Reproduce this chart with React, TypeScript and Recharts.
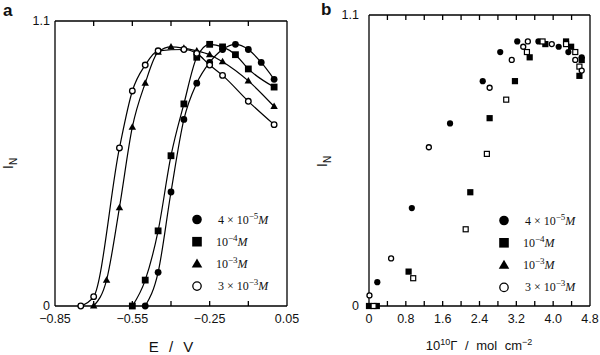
import React from "react";
import { ComposedChart, Line, ScatterChart, Scatter, XAxis, YAxis } from "recharts";

// panel a: normalised intensity vs electrode potential
const potential4e5 = [-0.5, -0.45, -0.4, -0.35, -0.3, -0.25, -0.2, -0.15, -0.1, -0.05, 0.0];
const intensity4e5 = [0, 0.13, 0.44, 0.72, 0.86, 0.94, 0.99, 1.01, 0.99, 0.94, 0.875];

const potential1e4 = [-0.55, -0.5, -0.45, -0.4, -0.35, -0.3, -0.25, -0.2, -0.15, -0.1, 0.0];
const intensity1e4 = [0, 0.1, 0.29, 0.58, 0.78, 0.96, 1.01, 1.0, 0.97, 0.915, 0.845];

const potential1e3 = [-0.7, -0.65, -0.6, -0.55, -0.5, -0.45, -0.4, -0.35, -0.3, -0.25, -0.2, -0.1, 0.0];
const intensity1e3 = [0, 0.1, 0.38, 0.69, 0.86, 0.98, 1.0, 0.995, 0.985, 0.97, 0.943, 0.869, 0.77];

const potential3e3 = [-0.75, -0.7, -0.6, -0.55, -0.5, -0.45, -0.35, -0.3, -0.25, -0.2, -0.1, 0.0];
const intensity3e3 = [0, 0.036, 0.61, 0.83, 0.93, 0.985, 0.99, 0.975, 0.93, 0.89, 0.79, 0.7];

// panel b: normalised intensity vs surface excess (10^10 mol cm^-2)
const coverageDisc = [0.18, 0.93, 1.76, 2.47, 2.85, 3.22, 3.68, 4.12, 4.33, 4.62];
const intensityDisc = [0.09, 0.37, 0.69, 0.85, 0.96, 1.0, 1.0, 0.98, 0.96, 0.94];

const coverageSquare = [0, 0.17, 0.86, 2.2, 2.62, 3.17, 3.49, 3.83, 4.28, 4.39, 4.62, 4.57];
const intensitySquare = [0, 0, 0.13, 0.43, 0.71, 0.85, 0.94, 0.99, 1.0, 0.98, 0.93, 0.87];

const coverageBox = [0.1, 0.96, 2.1, 2.56, 2.98, 3.43, 3.77, 4.28, 4.48, 4.57];
const intensityBox = [0, 0.105, 0.29, 0.575, 0.78, 0.96, 1.0, 0.99, 0.96, 0.905];

const coverageRing = [0.01, 0.48, 1.3, 2.62, 3.1, 3.35, 3.45, 3.97, 4.48, 4.62];
const intensityRing = [0.04, 0.18, 0.6, 0.825, 0.93, 0.98, 1.0, 0.99, 0.93, 0.89];

const potentialTicks = [-0.85, -0.55, -0.25, 0.05];
const potentialMinorTicks = [-0.7, -0.55, -0.4, -0.25, -0.1];
const coverageTicks = [0, 0.8, 1.6, 2.4, 3.2, 4.0, 4.8];
const coverageMinorTicks = [0.4, 0.8, 1.2, 1.6, 2.0, 2.4, 2.8, 3.2, 3.6, 4.0, 4.4];
const intensityTicks = [0, 1.1];

type Kind = "disc" | "square" | "triangle" | "ring" | "box";

const legendItems: { kind: Kind; coef: string; exp: string }[] = [
  { kind: "disc", coef: "4 × ", exp: "−5" },
  { kind: "square", coef: "", exp: "−4" },
  { kind: "triangle", coef: "", exp: "−3" },
  { kind: "ring", coef: "3 × ", exp: "−3" },
];

const toPoints = (xs: number[], ys: number[]) => xs.map((x, i) => ({ x, y: ys[i] }));
const onLevel = (xs: number[], level: number) => xs.map((x) => ({ x, y: level }));

function Marker({ kind, cx, cy, s = 3.4 }: { kind: Kind; cx?: number; cy?: number; s?: number }) {
  if (cx == null || cy == null) return null;
  if (kind === "disc") return <circle cx={cx} cy={cy} r={s} fill="#000" />;
  if (kind === "ring")
    return <circle cx={cx} cy={cy} r={s - 0.6} fill="#fff" stroke="#000" strokeWidth={1.3} />;
  if (kind === "square")
    return <rect x={cx - s} y={cy - s} width={2 * s} height={2 * s} fill="#000" />;
  if (kind === "box")
    return (
      <rect x={cx - s + 0.6} y={cy - s + 0.6} width={2 * s - 1.2} height={2 * s - 1.2}
        fill="#fff" stroke="#000" strokeWidth={1.2} />
    );
  const h = s * 1.9;
  return (
    <polygon
      points={`${cx},${cy - h * 0.6} ${cx + s * 1.1},${cy + h * 0.4} ${cx - s * 1.1},${cy + h * 0.4}`}
      fill="#000"
    />
  );
}

// inward tick marks on the frame: upward from the bottom line, downward from the top line
const TickUp = (p: any) => (
  <line x1={p.cx} x2={p.cx} y1={p.cy} y2={p.cy - 5} stroke="#000" strokeWidth={1.3} />
);
const TickDown = (p: any) => (
  <line x1={p.cx} x2={p.cx} y1={p.cy} y2={p.cy + 5} stroke="#000" strokeWidth={1.3} />
);

const tickStyle = { fontFamily: "Liberation Sans, Arial, sans-serif", fontSize: 12.5, fill: "#111" };
const frame = { stroke: "#000", strokeWidth: 1.3 };
const fmtPotential = (v: number) => (v < 0 ? "−" : "") + Math.abs(v).toFixed(2);
const fmtOne = (v: number) => (v === 0 ? "0" : v.toFixed(1));

function PanelA() {
  const series: { kind: Kind; pts: { x: number; y: number }[] }[] = [
    { kind: "disc", pts: toPoints(potential4e5, intensity4e5) },
    { kind: "square", pts: toPoints(potential1e4, intensity1e4) },
    { kind: "triangle", pts: toPoints(potential1e3, intensity1e3) },
    { kind: "ring", pts: toPoints(potential3e3, intensity3e3) },
  ];
  return (
    <ComposedChart width={300} height={355} margin={{ top: 21, right: 13, bottom: 19, left: 25 }}>
      <XAxis dataKey="x" type="number" domain={[-0.85, 0.05]} ticks={potentialTicks}
        tickFormatter={fmtPotential} tickLine={false} tickSize={6} height={30}
        axisLine={frame} tick={tickStyle} interval={0} />
      <XAxis xAxisId="top" type="number" domain={[-0.85, 0.05]} orientation="top" mirror
        tick={false} tickLine={false} axisLine={frame} />
      <YAxis dataKey="y" type="number" domain={[0, 1.1]} ticks={intensityTicks} tickFormatter={fmtOne}
        width={30} tickLine={false} tickSize={3} tick={tickStyle} axisLine={frame} interval={0} />
      <YAxis yAxisId="right" orientation="right" mirror type="number" domain={[0, 1.1]}
        tick={false} tickLine={false} axisLine={frame} />
      <Scatter name="ticksBottom" data={onLevel(potentialMinorTicks, 0)} dataKey="y"
        shape={TickUp} isAnimationActive={false} />
      <Scatter name="ticksTop" data={onLevel(potentialMinorTicks, 1.1)} dataKey="y"
        shape={TickDown} isAnimationActive={false} />
      {series.map((s) => (
        <Line key={s.kind} data={s.pts} dataKey="y" type="monotone" stroke="#000"
          strokeWidth={1.2} isAnimationActive={false}
          dot={(p: any) => <Marker key={`${s.kind}-${p.index}`} kind={s.kind} cx={p.cx} cy={p.cy} />} />
      ))}
    </ComposedChart>
  );
}

function PanelB() {
  const series: { kind: Kind; pts: { x: number; y: number }[] }[] = [
    { kind: "disc", pts: toPoints(coverageDisc, intensityDisc) },
    { kind: "square", pts: toPoints(coverageSquare, intensitySquare) },
    { kind: "box", pts: toPoints(coverageBox, intensityBox) },
    { kind: "ring", pts: toPoints(coverageRing, intensityRing) },
  ];
  return (
    <ScatterChart width={300} height={355} margin={{ top: 15, right: 10, bottom: 19, left: 39 }}>
      <XAxis dataKey="x" type="number" domain={[0, 4.8]} ticks={coverageTicks}
        tickFormatter={fmtOne} tickLine={false} tickSize={6} height={30}
        axisLine={frame} tick={tickStyle} interval={0} />
      <XAxis xAxisId="top" type="number" domain={[0, 4.8]} orientation="top" mirror
        tick={false} tickLine={false} axisLine={frame} />
      <YAxis dataKey="y" type="number" domain={[0, 1.1]} ticks={intensityTicks} tickFormatter={fmtOne}
        width={30} tickLine={false} tickSize={8} tick={tickStyle} axisLine={frame} interval={0} />
      <YAxis yAxisId="right" orientation="right" mirror type="number" domain={[0, 1.1]}
        tick={false} tickLine={false} axisLine={frame} />
      <Scatter name="ticksBottom" data={onLevel(coverageMinorTicks, 0)} shape={TickUp}
        isAnimationActive={false} />
      <Scatter name="ticksTop" data={onLevel(coverageMinorTicks, 1.1)} shape={TickDown}
        isAnimationActive={false} />
      {series.map((s) => (
        <Scatter key={s.kind} data={s.pts} isAnimationActive={false}
          shape={(p: any) => <Marker kind={s.kind} cx={p.cx} cy={p.cy} s={3.1} />} />
      ))}
    </ScatterChart>
  );
}

function LegendBlock({ x, y, gap }: { x: number; y: number; gap: number }) {
  return (
    <g>
      {legendItems.map((it, i) => {
        const cy = y + i * gap;
        return (
          <g key={i}>
            <Marker kind={it.kind} cx={x} cy={cy} s={4.8} />
            <text x={x + (it.coef ? 21 : 19)} y={cy + 4}
              style={{ fontFamily: "Liberation Serif, serif", fontSize: 12, fill: "#111" }}>
              {it.coef}10
              <tspan dy={-5} fontSize={9}>{it.exp}</tspan>
              <tspan dy={5} fontStyle="italic">M</tspan>
            </text>
          </g>
        );
      })}
    </g>
  );
}

export default function App() {
  const sans = { fontFamily: "Liberation Sans, Arial, sans-serif", fill: "#111" };
  return (
    <div style={{ position: "absolute", left: 0, top: 0, width: 600, height: 355, background: "#fff" }}>
      <div style={{ position: "absolute", left: 0, top: 0 }}>
        <PanelA />
      </div>
      <div style={{ position: "absolute", left: 300, top: 0 }}>
        <PanelB />
      </div>
      <svg width={600} height={355} style={{ position: "absolute", left: 0, top: 0, pointerEvents: "none" }}>
        <text x={3} y={16} style={{ ...sans, fontSize: 17, fontWeight: 700 }}>a</text>
        <text x={321} y={15} style={{ ...sans, fontSize: 17, fontWeight: 700 }}>b</text>
        <text x={13} y={169} transform="rotate(-90 13 169)" style={{ ...sans, fontSize: 14 }}>
          I<tspan dy={4} fontSize={10}>N</tspan>
        </text>
        <text x={327} y={167} transform="rotate(-90 327 167)" style={{ ...sans, fontSize: 14 }}>
          I<tspan dy={4} fontSize={10}>N</tspan>
        </text>
        <text x={171} y={352} textAnchor="middle" style={{ ...sans, fontSize: 15, wordSpacing: 6 }}>
          E / V
        </text>
        <text x={479} y={350} textAnchor="middle" style={{ ...sans, fontSize: 13, wordSpacing: 4 }}>
          10<tspan dy={-5} fontSize={9}>10</tspan>
          <tspan dy={5}>Γ / mol cm</tspan>
          <tspan dy={-5} fontSize={9}>−2</tspan>
        </text>
        <LegendBlock x={197} y={219.5} gap={22.2} />
        <LegendBlock x={504} y={220.5} gap={22.3} />
      </svg>
    </div>
  );
}
